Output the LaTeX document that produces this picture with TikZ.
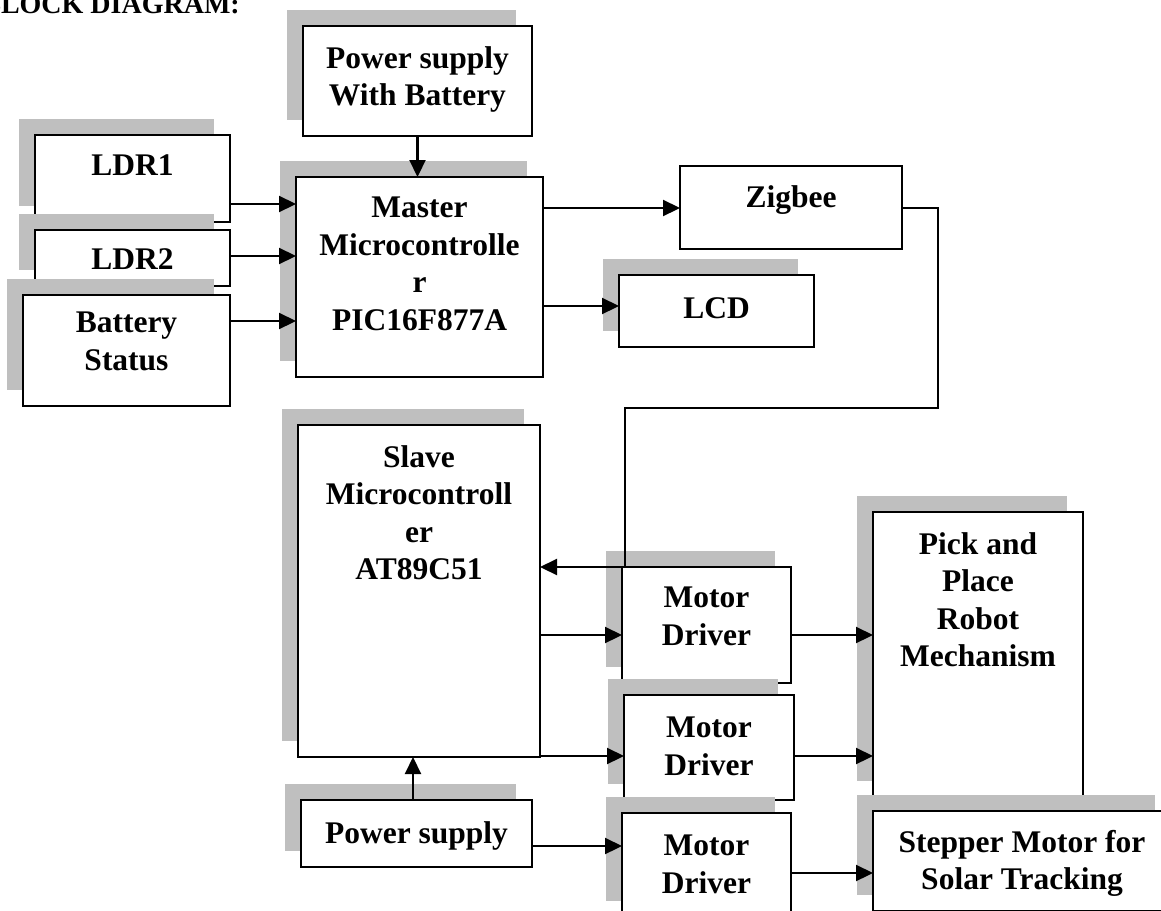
\documentclass[tikz,border=0pt]{standalone}
\usepackage{fontspec}
\setmainfont{Liberation Serif}
\usetikzlibrary{arrows.meta,shadows,calc}
\definecolor{shadowgray}{RGB}{191,191,191}
\newcommand\blk[6]{\node[box,#6,minimum width={#4-#2},minimum height={#5-#3}] (#1) at (#2,#3) {};}
\begin{document}
\begin{tikzpicture}[x=1pt,y=-1pt,
  box/.style={draw, line width=2.2pt, fill=white, inner sep=0pt, outer sep=0pt, anchor=north west},
  shad/.style={drop shadow={shadow xshift=-16pt, shadow yshift=16pt, fill=shadowgray, opacity=1}},
  lbl/.style={anchor=north, inner sep=0pt, align=center, font=\bfseries\fontsize{31.5}{37.5}\selectfont},
  arr/.style={line width=2.2pt, -{Triangle[length=17pt,width=16pt]}},
  wire/.style={line width=2.2pt}]
\useasboundingbox (0,0) rectangle (1161,910);
\clip (0,0) rectangle (1161,910);

\node[anchor=base east, inner sep=0pt, font=\bfseries\fontsize{28}{30}\selectfont] (title) at (240,13) {BLOCK DIAGRAM:};

\blk{psb}{303}{26}{532}{136}{shad}
\node[lbl] (tpsb) at ([yshift=-20pt]psb.north) {Power supply\\With Battery};

\blk{ldr1}{35}{135}{230}{222}{shad}
\node[lbl] (tldr1) at ([yshift=-20pt]ldr1.north) {LDR1};

\blk{ldr2}{35}{230}{230}{286}{shad}
\node[lbl] (tldr2) at ([yshift=-18pt]ldr2.north) {LDR2};

\blk{batt}{23}{295}{230}{406}{shad}
\node[lbl] (tbatt) at ([yshift=-17pt]batt.north) {Battery\\Status};

\blk{master}{296}{177}{543}{377}{shad}
\node[lbl] (tmaster) at ([yshift=-20pt]master.north) {Master\\Microcontrolle\\r\\PIC16F877A};

\blk{zigbee}{680}{166}{902}{249}{}
\node[lbl] (tzigbee) at ([yshift=-19pt]zigbee.north) {Zigbee};

\blk{lcd}{619}{275}{814}{347}{shad}
\node[lbl] (tlcd) at ([yshift=-22pt]lcd.north) {LCD};

\blk{slave}{298}{425}{540}{757}{shad}
\node[lbl] (tslave) at ([yshift=-20pt]slave.north) {Slave\\Microcontroll\\er\\AT89C51};

\blk{md1}{622}{567}{791}{683}{shad}
\node[lbl] (tmd1) at ([yshift=-20pt]md1.north) {Motor\\Driver};

\blk{md2}{624}{695}{794}{800}{shad}
\node[lbl] (tmd2) at ([yshift=-22pt]md2.north) {Motor\\Driver};

\blk{md3}{622}{813}{791}{917}{shad}
\node[lbl] (tmd3) at ([yshift=-22pt]md3.north) {Motor\\Driver};

\blk{pick}{873}{512}{1083}{797}{shad}
\node[lbl] (tpick) at ([yshift=-20pt]pick.north) {Pick and\\Place\\Robot\\Mechanism};

\blk{stepper}{873}{811}{1171}{911}{shad}
\node[lbl] (tstepper) at ([yshift=-19pt]stepper.north) {Stepper Motor for\\Solar Tracking};

\blk{ps}{301}{800}{532}{867}{shad}
\node[lbl] (tps) at ([yshift=-21pt]ps.north) {Power supply};

% connectors
\draw[arr] (psb) -- (psb |- master.north);
\draw[arr] (ldr1.east |- 0,204) -- (master.west |- 0,204);
\draw[arr] (ldr2.east |- 0,256) -- (master.west |- 0,256);
\draw[arr] (batt.east |- 0,321) -- (master.west |- 0,321);
\draw[arr] (master.east |- 0,208) -- (zigbee.west |- 0,208);
\draw[arr] (master.east |- 0,306) -- (lcd.west |- 0,306);

\coordinate (z1) at (938,208);
\coordinate (z2) at (938,408);
\coordinate (z3) at (625,408);
\coordinate (z4) at (625,567);
\draw[arr] (zigbee.east |- z1) -- (z1) -- (z2) -- (z3) -- (z4) -- (slave.east |- z4);

\draw[arr] (slave.east |- 0,635) -- (md1.west |- 0,635);
\draw[arr] (slave.east |- 0,756) -- (md2.west |- 0,756);
\draw[arr] (md1.east |- 0,635) -- (pick.west |- 0,635);
\draw[arr] (md2.east |- 0,756) -- (pick.west |- 0,756);
\draw[arr] (ps.north -| 413,0) -- (slave.south -| 413,0);
\draw[arr] (ps.east |- 0,846) -- (md3.west |- 0,846);
\draw[arr] (md3.east |- 0,873) -- (stepper.west |- 0,873);
\end{tikzpicture}
\end{document}
